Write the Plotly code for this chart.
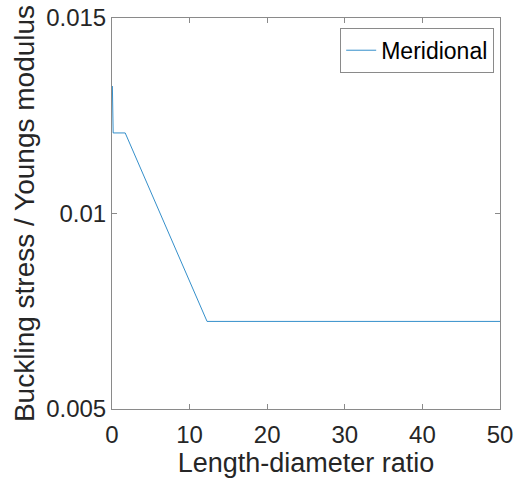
import plotly.graph_objects as go

# Data
ratio = [0.05, 0.15, 1.7, 12.25, 50.0]
stress = [0.01326, 0.01206, 0.01206, 0.00724, 0.00724]
series_name = "Meridional"
x_ticks = [0, 10, 20, 30, 40, 50]
y_ticks = [0.005, 0.01, 0.015]
y_tick_labels = ["0.005", "0.01", "0.015"]

FONT = "Liberation Sans, Arial"

fig = go.Figure()
fig.add_trace(go.Scatter(x=ratio, y=stress, mode="lines", name=series_name,
                         line=dict(color="#0072BD", width=0.8)))

axis_common = dict(showline=True, linecolor="#8a8a8a", linewidth=1, mirror="ticks",
                   ticks="inside", ticklen=5, tickcolor="#8a8a8a", showgrid=False,
                   zeroline=False, automargin=False,
                   tickfont=dict(family=FONT, size=24, color="#262626"))

fig.update_layout(
    width=514, height=483,
    margin=dict(l=112, r=14, t=18, b=74),
    paper_bgcolor="white", plot_bgcolor="white",
    font=dict(family=FONT, color="#262626"),
    xaxis=dict(range=[0, 50], tickvals=x_ticks, ticklabelstandoff=4,
               title=dict(text="Length-diameter ratio", font=dict(size=27, color="#262626"), standoff=6),
               **axis_common),
    yaxis=dict(range=[0.005, 0.015], tickvals=y_ticks, ticktext=y_tick_labels,
               title=dict(text="Buckling stress / Youngs modulus", font=dict(size=28, color="#262626"), standoff=3),
               **axis_common),
    legend=dict(x=0.985, y=0.975, xanchor="right", yanchor="top",
                bordercolor="#8a8a8a", borderwidth=1, bgcolor="white",
                font=dict(size=23, color="#000000"), tracegroupgap=0,
                itemwidth=30),
    showlegend=True,
)

fig.write_html("out.html")
